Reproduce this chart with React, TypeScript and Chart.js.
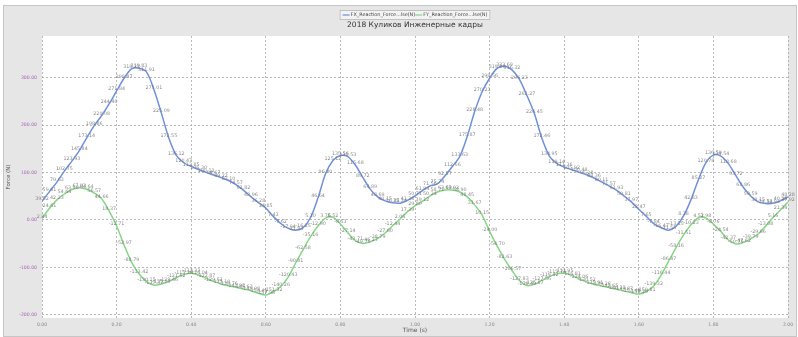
import React, { useEffect, useRef } from "react";
import { Chart, registerables } from "chart.js";

Chart.register(...registerables);

const titleText = "2018 Куликов Инженерные кадры";
const seriesNames = ["FX_Reaction_Force...lse(N)", "FY_Reaction_Force...lse(N)"];
const xAxisTitle = "Time (s)";
const yAxisTitle = "Force (N)";

const times = [
  0.0, 0.02, 0.04, 0.06, 0.08, 0.1, 0.12, 0.14, 0.16, 0.18,
  0.2, 0.22, 0.24, 0.26, 0.28, 0.3, 0.32, 0.34, 0.36, 0.38,
  0.4, 0.42, 0.44, 0.46, 0.48, 0.5, 0.52, 0.54, 0.56, 0.58,
  0.6, 0.62, 0.64, 0.66, 0.68, 0.7, 0.72, 0.74, 0.76, 0.78,
  0.8, 0.82, 0.84, 0.86, 0.88, 0.9, 0.92, 0.94, 0.96, 0.98,
  1.0, 1.02, 1.04, 1.06, 1.08, 1.1, 1.12, 1.14, 1.16, 1.18,
  1.2, 1.22, 1.24, 1.26, 1.28, 1.3, 1.32, 1.34, 1.36, 1.38,
  1.4, 1.42, 1.44, 1.46, 1.48, 1.5, 1.52, 1.54, 1.56, 1.58,
  1.6, 1.62, 1.64, 1.66, 1.68, 1.7, 1.72, 1.74, 1.76, 1.78,
  1.8, 1.82, 1.84, 1.86, 1.88, 1.9, 1.92, 1.94, 1.96, 1.98,
  2.0,
];

const fxValues = [
  39.52, 59.61, 79.63, 102.75, 123.93, 145.84, 173.14, 198.86, 220.08, 244.4,
  271.84, 298.47, 318.23, 319.83, 311.91, 275.01, 225.09, 172.55, 136.12, 120.47,
  112.85, 106.3, 100.12, 94.67, 89.22, 83.1, 74.57, 62.82, 48.96, 36.28,
  24.85, 7.43, -7.62, -17.94, -21.83, -16.25, 5.1, 46.64, 96.8, 125.12,
  135.56, 133.53, 115.68, 89.72, 64.89, 48.69, 40.15, 36.02, 35.34, 41.28,
  50.71, 61.94, 71.56, 75.74, 92.57, 112.66, 133.63, 175.87, 228.48, 270.21,
  298.56, 319.2, 323.69, 316.32, 296.23, 262.27, 224.45, 172.46, 134.95, 119.14,
  111.36, 105.92, 100.48, 95.28, 88.36, 80.11, 71.57, 62.93, 50.81, 37.97,
  22.47, 7.65, -7.84, -16.47, -21.55, -13.25, 8.38, 42.83, 85.27, 120.78,
  136.59, 134.54, 118.68, 93.72, 68.86, 50.59, 38.15, 34.52, 34.94, 40.25,
  48.28,
];

const fyValues = [
  2.84, 24.61, 42.23, 54.64, 63.98, 67.93, 64.64, 56.57, 44.66, 18.37,
  -12.71, -52.97, -88.79, -113.42, -130.15, -137.37, -135.09, -129.46, -121.62, -115.28,
  -112.33, -116.04, -122.87, -129.51, -135.1, -138.76, -141.92, -145.63, -149.08, -154.41,
  -157.98, -151.32, -140.26, -120.43, -90.81, -62.58, -35.16, -12.9, 3.76, 5.52,
  -8.53, -27.14, -43.71, -49.76, -46.27, -38.79, -27.6, -12.44, 2.06, 17.39,
  29.8, 39.12, 50.24, 58.71, 63.09, 63.02, 58.9, 48.45, 31.67, 10.15,
  -24.0, -54.7, -82.63, -106.57, -127.83, -138.49, -135.87, -127.56, -119.42, -113.74,
  -111.95, -116.81, -124.06, -130.52, -135.91, -139.28, -142.65, -146.13, -149.87, -153.44,
  -156.29, -150.81, -139.32, -116.44, -86.87, -58.16, -31.51, -10.23, 4.52, 3.98,
  -8.76, -24.54, -42.37, -50.75, -47.62, -39.79, -29.66, -13.08, 5.16, 21.34,
  37.92,
];

const xTicks = [0, 0.2, 0.4, 0.6, 0.8, 1.0, 1.2, 1.4, 1.6, 1.8, 2.0];
const yTicks = [-200, -100, 0, 100, 200, 300];
const xRange = [0, 2];
const yRange = [-206.7, 387.6];

const seriesColors = ["#6f90dc", "#86d684"];
const FAMILY = '"DejaVu Sans", sans-serif';

const panelPlugin = {
  id: "panel",
  beforeDraw(chart: any) {
    const { ctx, width, height, chartArea } = chart;
    ctx.save();
    ctx.fillStyle = "#ffffff";
    ctx.fillRect(0, 0, width, height);
    ctx.fillStyle = "#e6e6e6";
    ctx.fillRect(3, 5, width - 4, height - 5);
    ctx.strokeStyle = "#c6c6c6";
    ctx.lineWidth = 1;
    ctx.strokeRect(3.5, 5.5, width - 5, height - 6);
    ctx.fillStyle = "#ffffff";
    ctx.fillRect(
      chartArea.left,
      chartArea.top,
      chartArea.right - chartArea.left,
      chartArea.bottom - chartArea.top
    );
    ctx.restore();
  },
};

const valueLabelPlugin = {
  id: "valueLabels",
  afterDatasetsDraw(chart: any) {
    const { ctx } = chart;
    ctx.save();
    ctx.font = `4.8px ${FAMILY}`;
    ctx.fillStyle = "rgba(115,115,115,0.85)";
    ctx.textAlign = "center";
    ctx.textBaseline = "middle";
    chart.data.datasets.forEach((ds: any, i: number) => {
      const meta = chart.getDatasetMeta(i);
      meta.data.forEach((pt: any, j: number) => {
        const v = ds.data[j].y;
        ctx.fillText(Number(v).toFixed(2), pt.x, pt.y - 2);
      });
    });
    ctx.restore();
  },
};

const headerPlugin = {
  id: "header",
  afterDraw(chart: any) {
    const { ctx, chartArea } = chart;
    const cx = (chartArea.left + chartArea.right) / 2;
    ctx.save();
    ctx.font = `7.5px ${FAMILY}`;
    ctx.fillStyle = "#333333";
    ctx.textAlign = "center";
    ctx.textBaseline = "middle";
    ctx.fillText(titleText, cx, 25);

    ctx.font = `4.9px ${FAMILY}`;
    const lineLen = 7;
    const gap = 1;
    const widths = seriesNames.map((n) => ctx.measureText(n).width);
    const itemW = widths.map((w) => lineLen + gap + w);
    const total = itemW.reduce((a, b) => a + b, 0) + 6;
    const bx = cx - total / 2;
    const by = 10;
    const bh = 10;
    ctx.fillStyle = "#f3f3f3";
    ctx.fillRect(bx, by, total, bh);
    ctx.strokeStyle = "#b5b5b5";
    ctx.lineWidth = 0.8;
    ctx.strokeRect(bx + 0.5, by + 0.5, total - 1, bh - 1);
    let x = bx + 3;
    const ly = by + bh / 2;
    ctx.textAlign = "left";
    seriesNames.forEach((n, i) => {
      ctx.strokeStyle = seriesColors[i];
      ctx.lineWidth = 1.2;
      ctx.beginPath();
      ctx.moveTo(x, ly);
      ctx.lineTo(x + lineLen, ly);
      ctx.stroke();
      ctx.fillStyle = "#444444";
      ctx.fillText(n, x + lineLen + gap, ly);
      x += itemW[i];
    });
    ctx.restore();
  },
};

export default function App() {
  const ref = useRef<HTMLCanvasElement | null>(null);

  useEffect(() => {
    if (!ref.current) return;
    const mk = (vals: number[]) => times.map((t, i) => ({ x: t, y: vals[i] }));
    const chart = new Chart(ref.current, {
      type: "line",
      data: {
        datasets: [
          {
            label: seriesNames[0],
            data: mk(fxValues),
            borderColor: seriesColors[0],
            backgroundColor: seriesColors[0],
            borderWidth: 1.5,
            pointRadius: 0,
            tension: 0.3,
            fill: false,
          },
          {
            label: seriesNames[1],
            data: mk(fyValues),
            borderColor: seriesColors[1],
            backgroundColor: seriesColors[1],
            borderWidth: 1.5,
            pointRadius: 0,
            tension: 0.3,
            fill: false,
          },
        ],
      },
      options: {
        responsive: false,
        animation: false,
        devicePixelRatio: 1,
        layout: { padding: { left: 0, top: 36, right: 10, bottom: 0 } },
        plugins: {
          legend: { display: false },
          title: { display: false },
          tooltip: { enabled: false },
        },
        scales: {
          x: {
            type: "linear",
            min: xRange[0],
            max: xRange[1],
            afterBuildTicks: (s: any) => {
              s.ticks = xTicks.map((v) => ({ value: v }));
            },
            afterFit: (s: any) => {
              s.height = 19;
            },
            ticks: {
              autoSkip: false,
              maxRotation: 0,
              color: "#8a8a8a",
              font: { size: 4.6, family: FAMILY },
              padding: 4,
              callback: (v: any) => Number(v).toFixed(2),
            },
            grid: { color: "#a9a9a9", lineWidth: 0.8, drawTicks: false },
            border: { display: false, dash: [2, 2] },
            title: {
              display: true,
              text: xAxisTitle,
              color: "#555555",
              font: { size: 6, family: FAMILY },
              padding: { top: 0, bottom: 3 },
            },
          },
          y: {
            type: "linear",
            min: yRange[0],
            max: yRange[1],
            afterBuildTicks: (s: any) => {
              s.ticks = yTicks.map((v) => ({ value: v }));
            },
            afterFit: (s: any) => {
              s.width = 42;
            },
            ticks: {
              color: "#a66ab6",
              font: { size: 4.6, family: FAMILY },
              padding: 5,
              callback: (v: any) => Number(v).toFixed(2),
            },
            grid: { color: "#a9a9a9", lineWidth: 0.8, drawTicks: false },
            border: { display: false, dash: [2, 2] },
            title: {
              display: true,
              text: yAxisTitle,
              color: "#555555",
              font: { size: 5.5, family: FAMILY },
              padding: { top: 5, bottom: 0 },
            },
          },
        },
      } as any,
      plugins: [panelPlugin, valueLabelPlugin, headerPlugin],
    });
    return () => chart.destroy();
  }, []);

  return (
    <div style={{ position: "fixed", left: 0, top: 0, width: 798, height: 337 }}>
      <canvas ref={ref} width={798} height={337} style={{ display: "block" }} />
    </div>
  );
}
